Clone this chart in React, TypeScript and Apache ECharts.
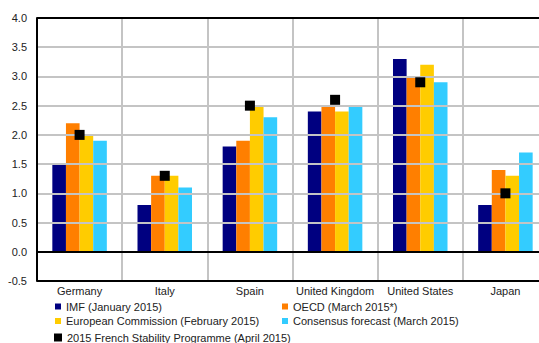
import React, { useEffect, useRef } from "react";
import * as echarts from "echarts";

const categories = ["Germany", "Italy", "Spain", "United Kingdom", "United States", "Japan"];
const imf = [1.5, 0.8, 1.8, 2.4, 3.3, 0.8];
const oecd = [2.2, 1.3, 1.9, 2.5, 3.0, 1.4];
const ec = [2.0, 1.3, 2.5, 2.4, 3.2, 1.3];
const consensus = [1.9, 1.1, 2.3, 2.5, 2.9, 1.7];
const french = [2.0, 1.3, 2.5, 2.6, 2.9, 1.0];

const names = {
  imf: "IMF (January 2015)",
  oecd: "OECD (March 2015*)",
  ec: "European Commission (February 2015)",
  cons: "Consensus forecast (March 2015)",
  fr: "2015 French Stability Programme (April 2015)",
};

const FONT = "Liberation Sans, Arial, sans-serif";

export default function App() {
  const ref = useRef<HTMLDivElement>(null);
  useEffect(() => {
    const chart = echarts.init(ref.current!, undefined, { renderer: "svg" });
    const bar = (name: string, data: number[], color: string) => ({
      name,
      type: "bar",
      data,
      barGap: "0%",
      barCategoryGap: "36%",
      itemStyle: { color },
      z: 2,
    });
    const legendText = { fontFamily: FONT, fontSize: 11, color: "#222" };
    chart.setOption({
      animation: false,
      textStyle: { fontFamily: FONT },
      grid: { left: 37, top: 18, width: 511, height: 263, outerBoundsMode: "none", containLabel: false },
      legend: [
        {
          orient: "vertical",
          left: 55,
          top: 301,
          itemWidth: 6,
          itemHeight: 6,
          itemGap: 3.5,
          icon: "rect",
          textStyle: legendText,
          data: [names.imf, names.ec],
          padding: 0,
        },
        {
          orient: "vertical",
          left: 282,
          top: 301,
          itemWidth: 6,
          itemHeight: 6,
          itemGap: 3.5,
          icon: "rect",
          textStyle: legendText,
          data: [names.oecd, names.cons],
          padding: 0,
        },
        {
          orient: "vertical",
          left: 54,
          top: 332,
          itemWidth: 8,
          itemHeight: 8,
          icon: "rect",
          textStyle: legendText,
          data: [names.fr],
          padding: 0,
        },
      ],
      xAxis: [
        {
          type: "category",
          data: categories,
          axisLine: { onZero: false, show: false },
          axisTick: { show: false },
          axisLabel: { interval: 0, fontSize: 11, color: "#222", margin: 4, fontFamily: FONT },
          splitLine: { show: true, interval: 0, lineStyle: { color: "#c4c4c4", width: 2 } },
        },
      ],
      yAxis: [
        {
          type: "value",
          min: -0.5,
          max: 4.0,
          interval: 0.5,
          axisLine: { show: true, lineStyle: { color: "#000", width: 2 } },
          axisTick: { show: false },
          axisLabel: {
            fontSize: 11,
            color: "#222",
            margin: 10,
            fontFamily: FONT,
            formatter: (v: number) => v.toFixed(1),
          },
          splitLine: { show: true, lineStyle: { color: "#c4c4c4", width: 2, type: "solid" } },
          z: 3,
        },
      ],
      series: [
        {
          ...bar(names.imf, imf, "#000080"),
          markLine: {
            silent: true,
            symbol: "none",
            label: { show: false },
            lineStyle: { color: "#000", width: 2, type: "solid" },
            data: [{ yAxis: 0 }, { yAxis: 4 }, { yAxis: -0.5 }],
          },
        },
        bar(names.oecd, oecd, "#ff7f00"),
        bar(names.ec, ec, "#ffcc00"),
        bar(names.cons, consensus, "#33ccff"),
        {
          name: names.fr,
          type: "scatter",
          data: french,
          symbol: "rect",
          symbolSize: 10,
          itemStyle: { color: "#000", opacity: 1 },
          z: 5,
        },
      ],
    });
    return () => chart.dispose();
  }, []);
  return <div ref={ref} style={{ width: 539, height: 343, position: "absolute", left: 0, top: 0 }} />;
}
